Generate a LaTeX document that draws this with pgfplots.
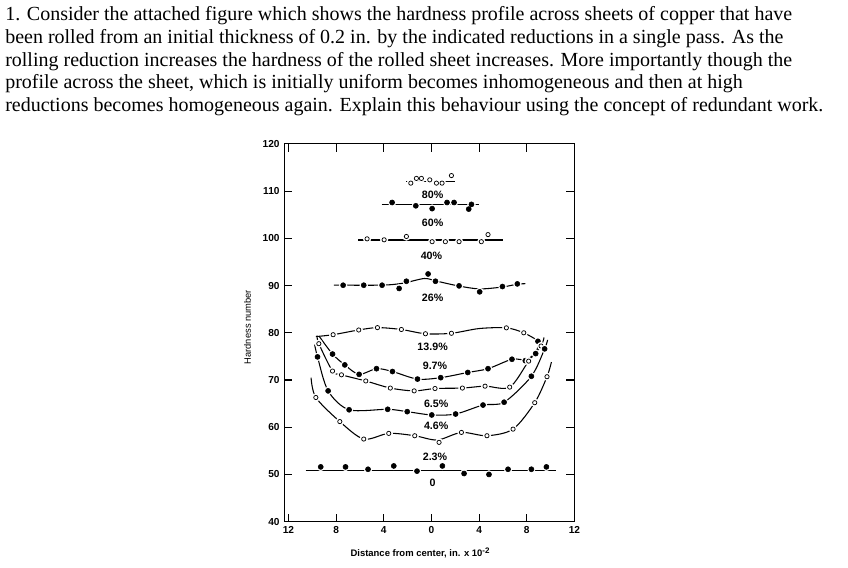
\documentclass[border=0pt]{standalone}
\usepackage{fontspec}
\setmainfont{Liberation Serif}
\newfontfamily\chartfont{Liberation Sans}
\usepackage{pgfplots}
\pgfplotsset{compat=1.18}
\pgfplotsset{
  curve/.style={black, line width=0.8pt, smooth, mark=none},
  straight/.style={black, line width=0.8pt, mark=none},
  halo/.style={only marks, mark=*, mark size=2.9pt, draw=white, fill=white},
  openm/.style={only marks, mark=o, mark size=1.6pt, black, mark options={fill=white, line width=0.55pt}},
  filledm/.style={only marks, mark=*, mark size=1.9pt, black},
}
\tikzset{pct/.style={font=\chartfont\bfseries\fontsize{8}{9}\selectfont, inner sep=0pt, anchor=center}}
\newcommand{\series}[3]{%
  \addplot[#1] coordinates {#2};
  \addplot[halo] coordinates {#3};
}
\begin{document}
\begin{tikzpicture}
\path[use as bounding box] (0pt,0pt) rectangle (636pt,425.25pt);
\begin{scope}[every node/.style={anchor=base west, inner sep=0pt, font=\fontsize{15}{17}\selectfont}]
\node at (3.75pt,409.7pt) {1. Consider the attached figure which shows the hardness profile across sheets of copper that have};
\node at (3.75pt,392.6pt) {been rolled from an initial thickness of 0.2 in. by the indicated reductions in a single pass. As the};
\node at (3.75pt,375.5pt) {rolling reduction increases the hardness of the rolled sheet increases. More importantly though the};
\node at (3.75pt,358.5pt) {profile across the sheet, which is initially uniform becomes inhomogeneous and then at high};
\node at (3.75pt,341.5pt) {reductions becomes homogeneous again. Explain this behaviour using the concept of redundant work.};
\end{scope}
\begin{axis}[
  at={(213.2pt,34pt)}, anchor=south west,
  scale only axis, width=217.6pt, height=283.3pt,
  xmin=-12.35, xmax=12, ymin=40, ymax=120,
  xtick={-12,-8,-4,0,4,8,12}, xticklabels={12,8,4,0,4,8,12},
  ytick={40,50,...,120},
  tick align=inside, major tick length=6pt,
  axis line style={line width=0.8pt}, tick style={line width=0.8pt, black},
  ticklabel style={font=\chartfont\bfseries\fontsize{7.6}{8}\selectfont},
  /pgf/number format/assume math mode=true,
  xlabel={Distance from center, in. x 10\raisebox{0.55ex}{\fontsize{6}{6}\selectfont -2}},
  xlabel style={font=\chartfont\bfseries\fontsize{7.1}{8}\selectfont, at={(axis description cs:0.468,-0.083)}, anchor=center},
  ylabel={Hardness number},
  ylabel style={font=\chartfont\fontsize{7}{8}\selectfont, at={(axis description cs:-0.127,0.515)}, anchor=center},
  clip=false,
]
% 80%
\series{straight}{(-2.1,112.1) (1.96,112.1)}{(-1.73,111.7) (-1.26,112.7) (-0.84,112.7) (-0.14,112.4) (0.42,111.7) (0.89,111.7) (1.68,113.3)}
\addplot[openm] coordinates {(-1.73,111.7) (-1.26,112.7) (-0.84,112.7) (-0.14,112.4) (0.42,111.7) (0.89,111.7) (1.68,113.3)};
% 60%
\series{straight}{(-4.19,107.1) (3.97,107.1)}{(-3.30,107.6) (-1.31,106.9) (0.06,106.3) (1.31,107.6) (1.90,107.6) (3.13,106.2) (3.36,107.2)}
\addplot[filledm] coordinates {(-3.30,107.6) (-1.31,106.9) (0.06,106.3) (1.31,107.6) (1.90,107.6) (3.13,106.2) (3.36,107.2)};
% 40%
\series{straight}{(-6.15,99.66) (6.01,99.66)}{(-5.40,99.9) (-3.97,99.7) (-2.10,100.4) (0.06,99.3) (1.17,99.3) (2.32,99.3) (4.19,99.3) (4.75,100.8)}
\addplot[openm] coordinates {(-5.40,99.9) (-3.97,99.7) (-2.10,100.4) (0.06,99.3) (1.17,99.3) (2.32,99.3) (4.19,99.3) (4.75,100.8)};
% 26%
\series{curve}{(-8.19,90.1) (-4.14,90.1) (-2.4,90.5) (-0.6,91.5) (0.34,91.0) (2.32,89.9) (4.05,89.3) (5.96,89.7) (7.21,90.3) (7.89,90.4)}{(-7.41,90.08) (-5.68,90.08) (-4.14,90.08) (-2.71,89.39) (-2.10,90.92) (-0.28,92.46) (0.34,90.92) (2.32,89.94) (4.05,88.68) (5.96,89.80) (7.21,90.36)}
\addplot[filledm] coordinates {(-7.41,90.08) (-5.68,90.08) (-4.14,90.08) (-2.71,89.39) (-2.10,90.92) (-0.28,92.46) (0.34,90.92) (2.32,89.94) (4.05,88.68) (5.96,89.80) (7.21,90.36)};
% 13.9%
\series{curve}{(-9.7,79.2) (-8.25,79.6) (-6.1,80.6) (-4.53,81.1) (-2.52,80.7) (-0.5,79.8) (1.68,79.9) (4.0,80.9) (6.29,81.05) (7.75,80.0) (8.9,78.4)}{(-8.25,79.6) (-6.1,80.6) (-4.53,81.1) (-2.52,80.7) (-0.5,79.8) (1.68,79.9) (6.29,81.05) (7.75,80.0)}
\addplot[openm] coordinates {(-8.25,79.6) (-6.1,80.6) (-4.53,81.1) (-2.52,80.7) (-0.5,79.8) (1.68,79.9) (6.29,81.05) (7.75,80.0)};
% 9.7%
\series{curve}{(-9.4,79.2) (-8.3,75.5) (-7.27,73.2) (-6.07,71.2) (-4.61,72.4) (-3.27,71.8) (-1.17,70.2) (0.78,70.5) (3.05,71.6) (4.75,72.4) (6.76,74.4) (7.88,74.3) (8.75,75.8) (9.1,78.8)}{(-8.3,75.5) (-7.27,73.2) (-6.07,71.2) (-4.61,72.4) (-3.27,71.8) (-1.17,70.2) (0.78,70.5) (3.05,71.6) (4.75,72.4) (6.76,74.4) (7.88,74.1) (8.75,75.6) (8.94,78.2)}
\addplot[filledm] coordinates {(-8.3,75.5) (-7.27,73.2) (-6.07,71.2) (-4.61,72.4) (-3.27,71.8) (-1.17,70.2) (0.78,70.5) (3.05,71.6) (4.75,72.4) (6.76,74.4) (7.88,74.1) (8.75,75.6) (8.94,78.2)};
% 6.5%
\series{curve}{(-9.6,79.4) (-9.45,77.7) (-8.3,71.9) (-7.55,71.1) (-5.51,69.8) (-3.45,68.3) (-1.45,67.7) (0.3,68.2) (2.6,68.3) (4.5,68.7) (6.57,68.5) (8.16,74.0) (9.2,77.2) (9.45,79.0)}{(-9.45,77.7) (-8.3,71.9) (-7.55,71.1) (-5.51,69.8) (-3.45,68.3) (-1.45,67.7) (0.3,68.2) (2.6,68.3) (4.5,68.7) (6.57,68.5) (8.16,74.0) (9.2,77.2)}
\addplot[openm] coordinates {(-9.45,77.7) (-8.3,71.9) (-7.55,71.1) (-5.51,69.8) (-3.45,68.3) (-1.45,67.7) (0.3,68.2) (2.6,68.3) (4.5,68.7) (6.57,68.5) (8.16,74.0) (9.2,77.2)};
% 4.6%
\series{curve}{(-9.8,77.5) (-9.56,74.9) (-8.67,67.7) (-6.91,63.7) (-3.67,63.8) (-2.03,63.3) (0.03,62.6) (2.03,62.8) (4.33,64.7) (6.1,65.3) (8.39,70.8) (9.5,76.6) (9.75,78.5)}{(-9.56,74.9) (-8.67,67.7) (-6.91,63.7) (-3.67,63.8) (-2.03,63.3) (0.03,62.6) (2.03,62.8) (4.33,64.7) (6.1,65.3) (8.39,70.8) (9.5,76.6)}
\addplot[filledm] coordinates {(-9.56,74.9) (-8.67,67.7) (-6.91,63.7) (-3.67,63.8) (-2.03,63.3) (0.03,62.6) (2.03,62.8) (4.33,64.7) (6.1,65.3) (8.39,70.8) (9.5,76.6)};
% 2.3%
\series{curve}{(-10.1,70.5) (-9.7,66.3) (-7.69,61.2) (-5.68,57.5) (-3.58,58.7) (-1.40,58.2) (0.5,57.3) (2.52,58.9) (4.66,58.2) (6.85,59.6) (8.67,65.2) (9.7,70.7) (10.07,73.8)}{(-9.7,66.3) (-7.69,61.2) (-5.68,57.5) (-3.58,58.7) (-1.40,58.2) (0.64,56.8) (2.52,58.9) (4.66,58.2) (6.85,59.6) (8.67,65.2) (9.7,70.7)}
\addplot[openm] coordinates {(-9.7,66.3) (-7.69,61.2) (-5.68,57.5) (-3.58,58.7) (-1.40,58.2) (0.64,56.8) (2.52,58.9) (4.66,58.2) (6.85,59.6) (8.67,65.2) (9.7,70.7)};
% 0
\series{straight}{(-10.55,50.9) (10.49,50.9)}{(-9.29,51.6) (-7.21,51.6) (-5.32,51.1) (-3.16,51.8) (-1.21,50.7) (0.92,51.8) (2.74,50.2) (4.83,50.0) (6.43,51.1) (8.39,51.1) (9.65,51.6)}
\addplot[filledm] coordinates {(-9.29,51.6) (-7.21,51.6) (-5.32,51.1) (-3.16,51.8) (-1.21,50.7) (0.92,51.8) (2.74,50.2) (4.83,50.0) (6.43,51.1) (8.39,51.1) (9.65,51.6)};
% labels
\node[pct] at (axis cs:0.1,109.3) {80\%};
\node[pct] at (axis cs:0.1,103.3) {60\%};
\node[pct] at (axis cs:0.0,96.2) {40\%};
\node[pct] at (axis cs:0.1,87.5) {26\%};
\node[pct] at (axis cs:0.1,77.0) {13.9\%};
\node[pct] at (axis cs:0.3,73.0) {9.7\%};
\node[pct] at (axis cs:0.4,65.0) {6.5\%};
\node[pct] at (axis cs:0.4,60.4) {4.6\%};
\node[pct] at (axis cs:0.3,53.8) {2.3\%};
\node[pct] at (axis cs:0.1,48.2) {0};
\end{axis}
\end{tikzpicture}
\end{document}
